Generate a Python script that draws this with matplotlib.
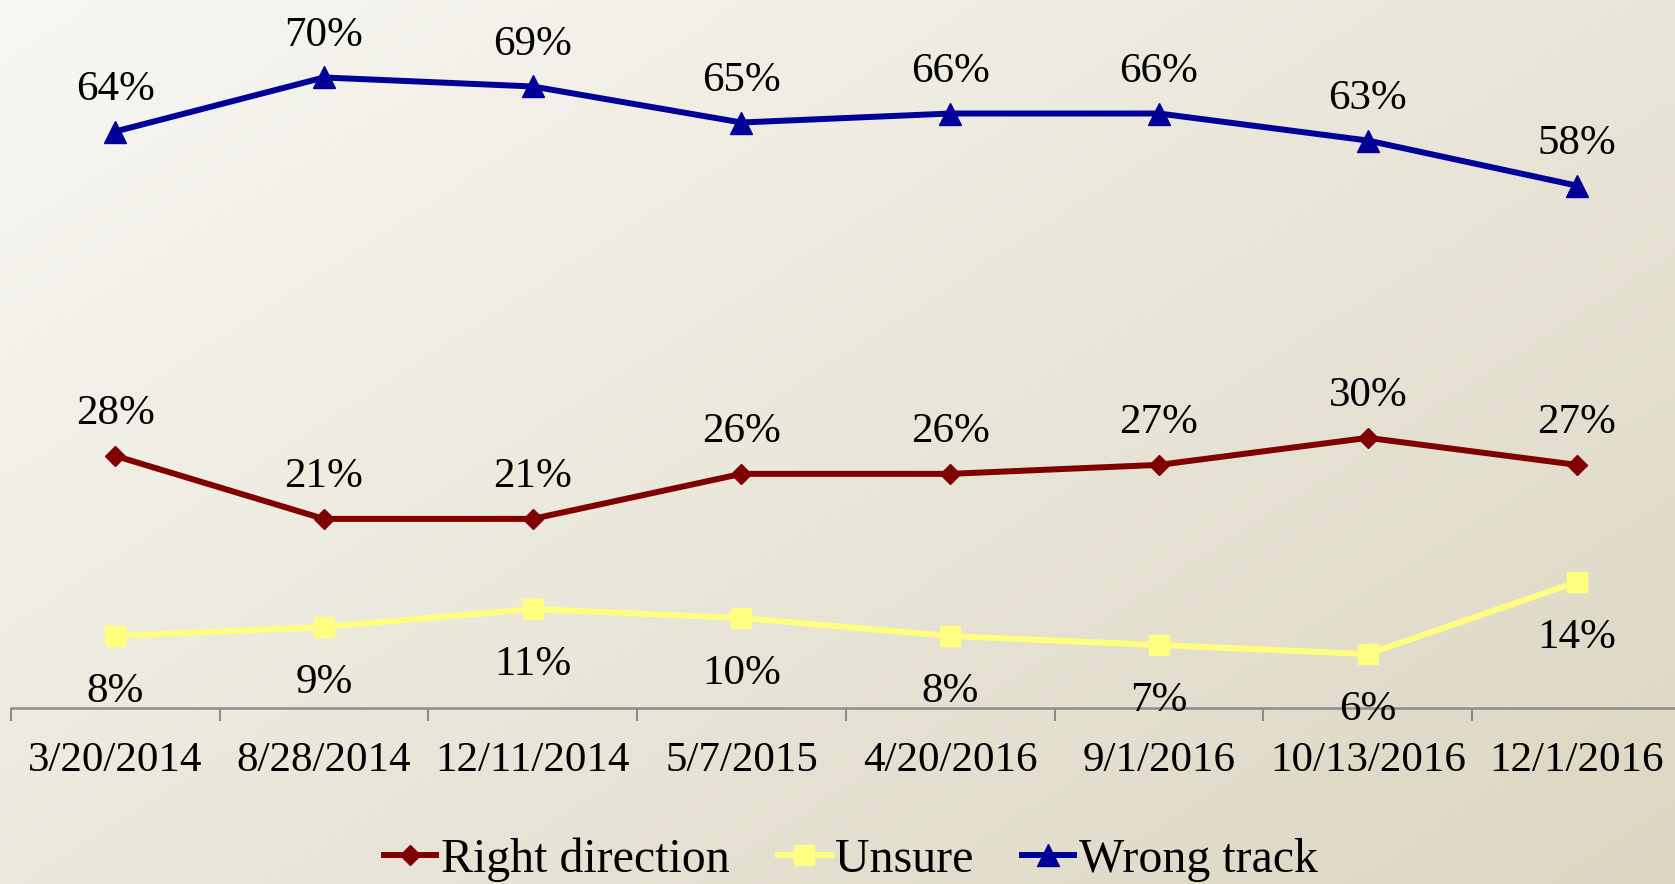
import matplotlib
matplotlib.use("Agg")
import matplotlib.pyplot as plt
import numpy as np

plt.rcParams['font.family'] = ['Liberation Serif', 'DejaVu Serif']

dates = ["3/20/2014", "8/28/2014", "12/11/2014", "5/7/2015",
         "4/20/2016", "9/1/2016", "10/13/2016", "12/1/2016"]
right_direction = [28, 21, 21, 26, 26, 27, 30, 27]
unsure = [8, 9, 11, 10, 8, 7, 6, 14]
wrong_track = [64, 70, 69, 65, 66, 66, 63, 58]

fig = plt.figure(figsize=(16.75, 8.84), dpi=100)

# background gradient, light top-left to beige bottom-right
bg = fig.add_axes([0, 0, 1, 1], zorder=0)
gx, gy = np.meshgrid(np.linspace(0, 1, 400), np.linspace(0, 1, 200))
t = np.clip(0.55 * gx + 0.45 * gy, 0, 1)
c0 = np.array([248, 247, 243]) / 255
c1 = np.array([220, 214, 193]) / 255
img = c0[None, None, :] * (1 - t[..., None]) + c1[None, None, :] * t[..., None]
bg.imshow(img, aspect='auto', extent=[0, 1, 1, 0])
bg.axis('off')

ax = fig.add_axes([0.0064, 0.1990, 0.9972, 0.8010], zorder=1)
ax.patch.set_alpha(0)

x = np.arange(len(dates))
l1, = ax.plot(x, right_direction, color='#800000', lw=4.3, marker='D', ms=10,
              label='Right direction', clip_on=False)
l2, = ax.plot(x, unsure, color='#FFFF80', lw=4.3, marker='s', ms=14,
              label='Unsure', clip_on=False)
l3, = ax.plot(x, wrong_track, color='#000099', lw=4.3, marker='^', ms=16,
              label='Wrong track', clip_on=False)

fs = 31
for xi, v in zip(x, right_direction):
    ax.annotate(f"{v}%", (xi, v), xytext=(0, 30), textcoords='offset points',
                ha='center', va='center', fontsize=fs)
for xi, v in zip(x, wrong_track):
    ax.annotate(f"{v}%", (xi, v), xytext=(0, 30), textcoords='offset points',
                ha='center', va='center', fontsize=fs)
for xi, v in zip(x, unsure):
    ax.annotate(f"{v}%", (xi, v), xytext=(0, -40), textcoords='offset points',
                ha='center', va='center', fontsize=fs)

ax.set_xlim(-0.5, 7.5)
ax.set_ylim(0, 78.6)
ax.set_xticks(np.arange(-0.5, 8, 1))
ax.set_xticklabels([])
ax.set_xticks(x, minor=True)
ax.set_xticklabels(dates, minor=True, fontsize=fs)
ax.tick_params(axis='x', which='major', length=9, width=1.5, color='#8c8c8c')
ax.tick_params(axis='x', which='minor', length=0, pad=24)
ax.set_yticks([])
for s in ['top', 'right', 'left']:
    ax.spines[s].set_visible(False)
ax.spines['bottom'].set_color('#8c8c8c')
ax.spines['bottom'].set_linewidth(1.8)

fig.legend(handles=[l1, l2, l3], loc='lower center', bbox_to_anchor=(0.508, 0.0),
           ncol=3, frameon=False, fontsize=34.5, handlelength=1.1,
           handletextpad=0.1, columnspacing=1.0, borderaxespad=0, borderpad=0.05)

fig.savefig("out.png", dpi=100)
